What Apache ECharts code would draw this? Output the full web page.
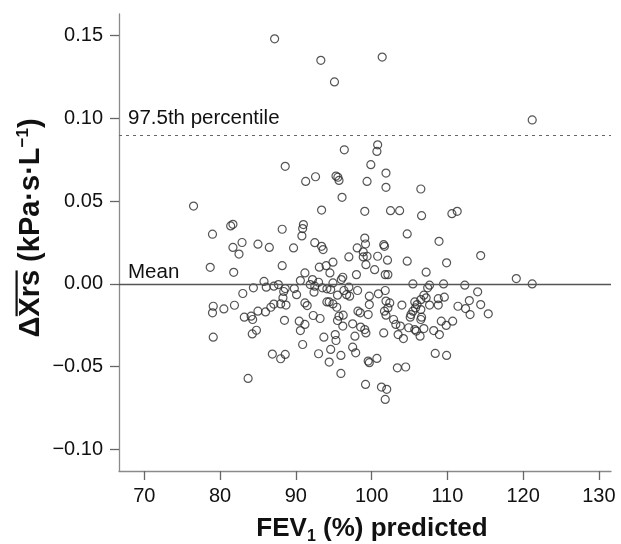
<!DOCTYPE html>
<html>
<head>
<meta charset="utf-8">
<script src="https://cdn.jsdelivr.net/npm/echarts@6/dist/echarts.min.js"></script>
<style>
html,body{margin:0;padding:0;background:#fff;}
#chart{width:621px;height:544px;}
</style>
</head>
<body>
<div id="chart"></div>
<script>
// ---- data ----
const fev = [
 87.2, 93.3, 101.4, 95.1, 121.2, 96.4, 100.8, 100.7,
 76.5, 88.6, 79.0, 81.4, 81.7, 88.2, 81.7, 82.9, 82.5, 85.0, 86.5, 78.7, 81.8, 88.2, 85.8,
 86.1, 87.1, 87.7, 84.4, 83.0, 79.1, 79.0, 80.5, 81.9, 83.2, 84.1, 84.3, 85.0, 86.0, 86.7, 87.1, 88.0, 88.3, 88.5, 79.1, 84.25, 84.8, 86.9, 88.0, 88.6, 83.7,
 99.9, 92.6, 91.3, 95.3, 95.55, 95.7, 99.4, 96.1, 93.4, 99.1, 91.0, 90.9, 90.8, 89.7, 92.5, 93.4, 93.6, 99.1, 99.2, 98.1, 98.9, 99.4, 98.9, 97.0, 94.9, 94.0, 93.1, 99.25, 94.5, 91.2, 98.0, 96.2, 96.0,
 90.6, 92.2, 93.0, 94.9, 88.6, 88.4, 89.8, 91.9, 92.5, 93.5, 94.1, 94.6, 95.5, 96.35, 97.0, 96.7, 97.1, 98.15, 99.7, 92.4, 90.1, 88.7, 91.2, 91.5, 94.1, 94.4, 94.9, 95.4, 98.2, 98.5, 99.7, 99.55, 90.45, 91.2, 90.6, 92.3, 93.2, 95.5, 95.7, 96.25, 96.2, 97.5, 98.55, 99.1, 99.25, 97.8, 95.2, 95.3, 93.7, 90.9, 97.5, 97.9, 94.6, 93.0, 95.95, 94.4, 99.55, 99.7, 95.95, 99.2,
 101.9, 101.9, 106.5, 102.5, 103.7, 106.6, 110.6, 111.3, 104.7, 108.9, 101.6, 101.7, 100.8, 102.1, 104.7, 109.9, 100.4, 101.8, 102.15, 107.2,
 105.45, 107.65, 107.4, 109.5, 100.9, 101.8, 101.9, 102.4, 102.15, 101.7, 101.9, 104.0, 105.7, 106.0, 105.8, 105.45, 105.2, 105.1, 106.5, 106.9, 106.5, 106.6, 106.5, 107.2, 107.65, 108.8, 109.6, 108.8, 111.4, 102.9, 103.2, 103.8, 109.2, 109.85, 110.7, 104.9, 105.7, 105.9, 106.4, 106.9, 108.2, 108.95, 103.5, 104.2, 101.6, 108.4, 109.9, 100.7, 103.4, 104.5, 101.3, 102.0, 101.8,
 114.4, 119.1, 121.2, 112.3, 114.0, 112.9, 112.4, 113.0, 114.4, 115.4
];
const dxrs = [
 0.148, 0.135, 0.137, 0.122, 0.099, 0.081, 0.084, 0.080,
 0.047, 0.071, 0.030, 0.035, 0.036, 0.033, 0.022, 0.025, 0.018, 0.024, 0.022, 0.010, 0.007, 0.011, 0.0015,
 -0.002, -0.0014, -0.0004, -0.0024, -0.0058, -0.0135, -0.0175, -0.0151, -0.0129, -0.0201, -0.0195, -0.0215, -0.0165, -0.0169, -0.0141, -0.0122, -0.0121, -0.0084, -0.022, -0.0322, -0.0302, -0.028, -0.0424, -0.0452, -0.0426, -0.0571,
 0.072, 0.0647, 0.0619, 0.0651, 0.0644, 0.0625, 0.0619, 0.0523, 0.0446, 0.0438, 0.0358, 0.0334, 0.029, 0.0217, 0.0249, 0.0227, 0.0207, 0.0277, 0.0241, 0.0217, 0.0193, 0.0167, 0.0163, 0.0163, 0.0131, 0.011, 0.0101, 0.0116, 0.0066, 0.0066, 0.0056, 0.004, 0.0026,
 0.002, 0.0026, 0.001, 0.0006, -0.0028, -0.0046, -0.0028, -0.0004, -0.0014, -0.0024, -0.003, -0.0034, -0.0068, -0.004, -0.002, -0.0065, -0.0074, -0.004, -0.0074, -0.005, -0.0065, -0.0128, -0.0115, -0.0131, -0.0109, -0.0109, -0.0121, -0.0141, -0.0165, -0.0175, -0.0125, -0.0185, -0.0225, -0.0245, -0.0282, -0.0191, -0.0209, -0.0221, -0.0195, -0.0189, -0.0255, -0.0241, -0.0261, -0.0276, -0.0296, -0.0316, -0.0306, -0.0342, -0.0322, -0.0366, -0.0382, -0.0416, -0.0396, -0.0422, -0.0432, -0.0472, -0.0466, -0.0476, -0.0541, -0.0607,
 0.0669, 0.0583, 0.0573, 0.0442, 0.0442, 0.0412, 0.0424, 0.0438, 0.0302, 0.0257, 0.0237, 0.0227, 0.0167, 0.0143, 0.0137, 0.0127, 0.0086, 0.0056, 0.0056, 0.0071,
 0.0, -0.0008, -0.0024, 0.0, -0.006, -0.004, -0.0104, -0.0115, -0.0145, -0.0165, -0.0189, -0.0128, -0.0109, -0.0125, -0.0145, -0.0165, -0.0185, -0.0201, -0.0095, -0.0068, -0.0155, -0.0201, -0.0215, -0.0084, -0.0128, -0.0089, -0.008, -0.0128, -0.0135, -0.0215, -0.0245, -0.0255, -0.0225, -0.0251, -0.0225, -0.0265, -0.0276, -0.0285, -0.0316, -0.027, -0.0282, -0.0306, -0.0306, -0.033, -0.0296, -0.042, -0.0432, -0.045, -0.0507, -0.0502, -0.0623, -0.0637, -0.0698,
 0.0171, 0.0032, 0.0, -0.0008, -0.0048, -0.0101, -0.0149, -0.0185, -0.0125, -0.0181
];
const meanValue = -0.001;
const pct975Value = 0.09;
const refLabels = ['Mean', '97.5th percentile'];
const xTicks = [70, 80, 90, 100, 110, 120, 130];
const yTicks = [-0.10, -0.05, 0.00, 0.05, 0.10, 0.15];
const yTickLabels = ['\u22120.10', '\u22120.05', '0.00', '0.05', '0.10', '0.15'];
const xRange = [66.66, 131.6];
const yRange = [-0.113, 0.163];

// ---- chart ----
const FONT = '"Liberation Sans", Arial, Helvetica, sans-serif';
const chart = echarts.init(document.getElementById('chart'), null, {renderer: 'canvas'});
const points = fev.map((x, i) => [x, dxrs[i]]);
const axisGrey = '#8a8a8a';

chart.setOption({
  animation: false,
  grid: {left: 119, right: 10, top: 14, bottom: 73},
  xAxis: {
    type: 'value', min: xRange[0], max: xRange[1],
    axisLine: {show: true, onZero: false, lineStyle: {color: axisGrey, width: 1.3}},
    axisTick: {show: true, length: 9, customValues: xTicks, lineStyle: {color: '#666', width: 1.3}},
    axisLabel: {customValues: xTicks, fontSize: 20, color: '#111', margin: 15, fontFamily: FONT},
    splitLine: {show: false}
  },
  yAxis: {
    type: 'value', min: yRange[0], max: yRange[1],
    axisLine: {show: true, onZero: false, lineStyle: {color: axisGrey, width: 1.3}},
    axisTick: {show: true, length: 9, customValues: yTicks, lineStyle: {color: '#666', width: 1.3}},
    axisLabel: {
      customValues: yTicks, fontSize: 20, color: '#111', margin: 16, fontFamily: FONT,
      formatter: function (v) {
        let best = 0;
        yTicks.forEach((t, i) => { if (Math.abs(t - v) < Math.abs(yTicks[best] - v)) best = i; });
        return yTickLabels[best];
      }
    },
    splitLine: {show: false}
  },
  series: [{
    type: 'scatter',
    data: points,
    symbol: 'circle',
    symbolSize: 8,
    itemStyle: {color: 'rgba(0,0,0,0)', borderColor: '#2a2a2a', borderWidth: 1.2},
    z: 3,
    markLine: {
      silent: true, symbol: 'none', animation: false,
      label: {show: false},
      data: [
        {yAxis: meanValue, lineStyle: {color: '#555', width: 1.3, type: 'solid'}},
        {yAxis: pct975Value, lineStyle: {color: '#666', width: 1.2, type: [3, 4]}}
      ]
    }
  }]
});

// ---- texts positioned from the chart's own scales ----
const meas = document.createElement('canvas').getContext('2d');
function w(txt, font) { meas.font = font; return meas.measureText(txt).width; }

const pMean = chart.convertToPixel({gridIndex: 0}, [xRange[0], meanValue]);
const pPct = chart.convertToPixel({gridIndex: 0}, [xRange[0], pct975Value]);
const annFont = 20.5;

function fontStr(size) { return 'bold ' + size + 'px ' + FONT; }

// y title pieces
const YB = 29, YS = 17;
const yA = '\u0394Xrs (kPa\u00b7s\u00b7L', yS = '\u22121', yC = ')';
const wyA = w(yA, fontStr(YB)), wyS = w(yS, fontStr(YS)), wyC = w(yC, fontStr(YB));
const wyTot = wyA + wyS + wyC;
const wDelta = w('\u0394', fontStr(YB)), wXrs = w('Xrs', fontStr(YB));
const y0 = -wyTot / 2;

// x title pieces
const XB = 26, XS = 16;
const xA = 'FEV', xS = '1', xC = ' (%) predicted';
const wxA = w(xA, fontStr(XB)), wxS = w(xS, fontStr(XS)), wxC = w(xC, fontStr(XB));
const x0 = -(wxA + wxS + wxC) / 2;

function txt(x, y, text, size, bold) {
  return {type: 'text', x: x, y: y, style: {text: text, fontSize: size, fontWeight: bold ? 'bold' : 'normal', fontFamily: FONT, fill: '#111', textAlign: 'left', textVerticalAlign: 'middle'}};
}

chart.setOption({
  graphic: [
    txt(128, pMean[1] - 13, refLabels[0], annFont, false),
    txt(128, pPct[1] - 17, refLabels[1], annFont, false),
    {
      type: 'group', x: 31, y: 228, rotation: Math.PI / 2,
      children: [
        txt(y0, 0, yA, YB, true),
        txt(y0 + wyA, -8, yS, YS, true),
        txt(y0 + wyA + wyS, 0, yC, YB, true),
        {type: 'rect', shape: {x: y0 + wDelta + 0.5, y: -15.5, width: wXrs - 1, height: 2.2}, style: {fill: '#111'}}
      ]
    },
    {
      type: 'group', x: 372, y: 529,
      children: [
        txt(x0, 0, xA, XB, true),
        txt(x0 + wxA, 8, xS, XS, true),
        txt(x0 + wxA + wxS, 0, xC, XB, true)
      ]
    }
  ]
});
</script>
</body>
</html>
